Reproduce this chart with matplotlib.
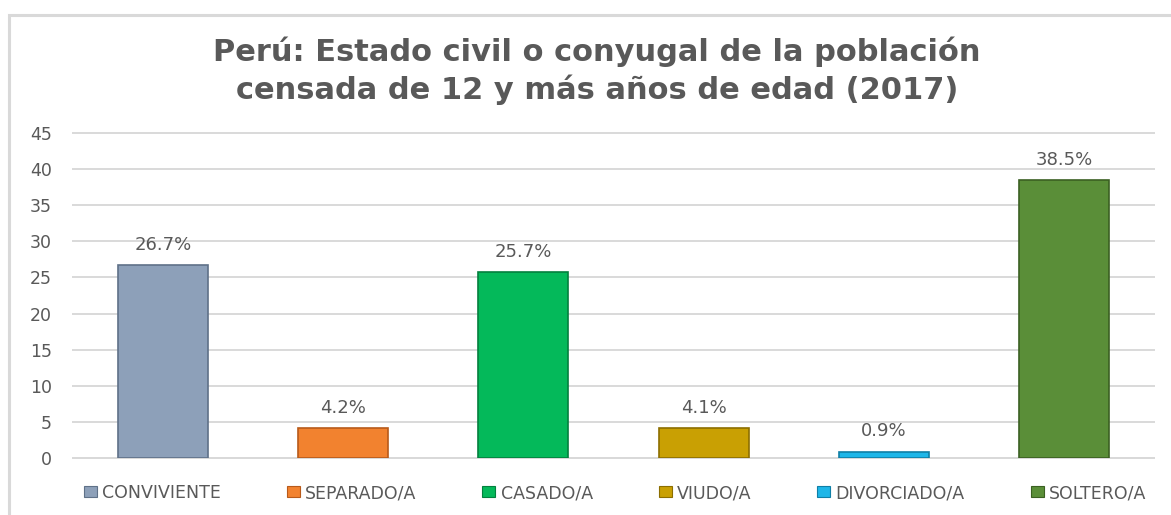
import matplotlib
matplotlib.use("Agg")
import matplotlib.pyplot as plt
from matplotlib.patches import Rectangle, Patch

categories = ["CONVIVIENTE", "SEPARADO/A", "CASADO/A", "VIUDO/A", "DIVORCIADO/A", "SOLTERO/A"]
values = [26.7, 4.2, 25.7, 4.1, 0.9, 38.5]
colors = ["#8DA0B9", "#F2822F", "#04B95A", "#C9A003", "#1EB6E8", "#5A8E38"]
edges = ["#5F7188", "#B85A1A", "#03803E", "#8C6E00", "#0F7FA6", "#3B6022"]
yticks = [0, 5, 10, 15, 20, 25, 30, 35, 40, 45]
title_lines = ["Perú: Estado civil o conyugal de la población",
               "censada de 12 y más años de edad (2017)"]

plt.rcParams["font.family"] = ["DejaVu Sans"]

W, H = 1171, 515
fig = plt.figure(figsize=(W / 100, H / 100), dpi=100)
fig.patch.set_facecolor("white")

# chart border
fig.add_artist(Rectangle((9 / W, -0.05), 1.2, (H - 15) / H + 0.05, transform=fig.transFigure,
                         fill=False, edgecolor="#D9D9D9", linewidth=2.2))

ax = fig.add_axes([73 / W, (H - 458) / H, (1154 - 73) / W, (458 - 133) / H])
x = list(range(len(categories)))
bars = ax.bar(x, values, width=0.5, color=colors, edgecolor=edges, linewidth=1.2, zorder=3)
ax.set_xlim(-0.5, len(categories) - 0.5)
ax.set_ylim(0, 45)
ax.set_yticks(yticks)
ax.set_yticklabels([str(t) for t in yticks])
ax.set_xticks([])
ax.grid(axis="y", color="#D9D9D9", linewidth=1.4, zorder=0, clip_on=False)
for s in ["top", "right", "left"]:
    ax.spines[s].set_visible(False)
ax.spines["bottom"].set_color("#D9D9D9")
ax.spines["bottom"].set_linewidth(1.4)
ax.tick_params(axis="y", length=0, pad=15, labelsize=12.5, labelcolor="#595959")

for xi, v in zip(x, values):
    ax.annotate(f"{v:.1f}%", (xi, v), xytext=(0, 8), textcoords="offset points",
                ha="center", va="bottom", fontsize=13, color="#595959")

for i, line in enumerate(title_lines):
    fig.text(597 / W, (H - 61 - 38 * i) / H, line, ha="center", va="baseline",
             fontsize=22, fontweight="bold", color="#595959")

handles = [Patch(facecolor=c, edgecolor=e, linewidth=0.8) for c, e in zip(colors, edges)]
leg = fig.legend(handles, categories, loc="center", bbox_to_anchor=(615 / W, (H - 493) / H),
                 ncol=6, frameon=False, handlelength=0.75, handleheight=0.6, handletextpad=0.3,
                 columnspacing=3.8, prop={"size": 12.5})
for t in leg.get_texts():
    t.set_color("#595959")

fig.savefig("out.png", dpi=100, facecolor="white")
